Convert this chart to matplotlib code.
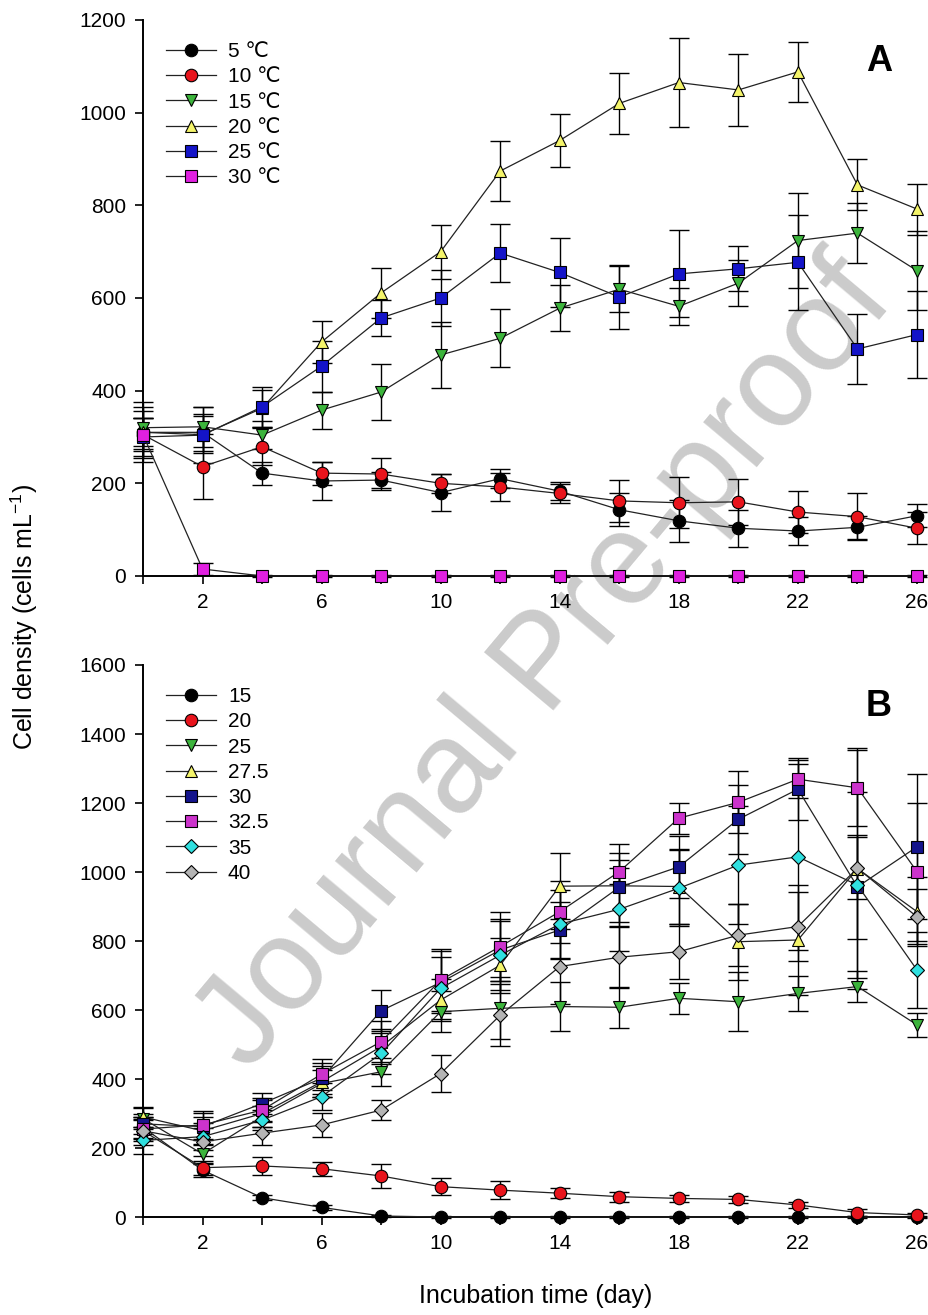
import numpy as np
import matplotlib
matplotlib.use("Agg")
import matplotlib.pyplot as plt
from matplotlib.ticker import FixedLocator, FuncFormatter

plt.rcParams['font.family'] = ['Liberation Sans', 'DejaVu Sans']
plt.rcParams['mathtext.default'] = 'regular'

# --- data ---
days = [0, 2, 4, 6, 8, 10, 12, 14, 16, 18, 20, 22, 24, 26]

# panel A: incubation temperature
a_labels = ['5 ℃', '10 ℃', '15 ℃', '20 ℃', '25 ℃', '30 ℃']
a_5 = [310, 310, 222, 205, 207, 180, 210, 183, 143, 119, 103, 97, 105, 130]
a_5_err = [65, 40, 25, 40, 18, 40, 20, 20, 35, 45, 40, 30, 25, 25]
a_10 = [305, 236, 279, 222, 220, 200, 192, 178, 162, 158, 160, 138, 128, 103]
a_10_err = [50, 70, 40, 25, 35, 20, 30, 20, 45, 55, 50, 45, 50, 35]
a_15 = [320, 322, 304, 358, 397, 477, 513, 578, 619, 582, 632, 724, 740, 659]
a_15_err = [45, 43, 30, 40, 60, 72, 63, 50, 50, 40, 50, 103, 65, 85]
a_20 = [310, 305, 362, 505, 611, 700, 874, 940, 1020, 1065, 1049, 1088, 844, 792]
a_20_err = [30, 40, 40, 45, 54, 58, 65, 58, 66, 97, 78, 64, 55, 55]
a_25 = [300, 304, 365, 453, 557, 600, 697, 655, 602, 652, 663, 677, 490, 521]
a_25_err = [40, 60, 43, 55, 38, 60, 63, 75, 70, 94, 49, 103, 75, 93]
a_30 = [305, 15, 0, 0, 0, 0, 0, 0, 0, 0, 0, 0, 0, 0]
a_30_err = [35, 12, 2, 2, 2, 2, 2, 2, 2, 2, 2, 2, 2, 2]

# panel B
b_labels = ['15', '20', '25', '27.5', '30', '32.5', '35', '40']
b_15 = [260, 136, 56, 28, 3, 0, 0, 0, 0, 0, 0, 0, 0, 0]
b_15_err = [30, 20, 8, 8, 3, 2, 2, 2, 2, 2, 2, 2, 2, 2]
b_20 = [250, 143, 148, 140, 119, 88, 78, 69, 59, 54, 51, 35, 13, 6]
b_20_err = [30, 20, 25, 20, 35, 25, 25, 15, 15, 10, 10, 10, 10, 5]
b_25 = [285, 183, 291, 387, 421, 595, 605, 610, 608, 634, 624, 648, 668, 557]
b_25_err = [30, 30, 30, 40, 40, 60, 90, 70, 60, 45, 85, 50, 45, 35]
b_275 = [290, 250, 300, 392, 494, 629, 730, 959, 960, 958, 798, 803, 1010, 885]
b_275_err = [30, 40, 40, 45, 50, 60, 80, 95, 120, 110, 110, 160, 350, 100]
b_30 = [270, 262, 329, 402, 598, 680, 774, 832, 956, 1015, 1153, 1240, 957, 1073]
b_30_err = [30, 40, 30, 45, 60, 90, 90, 80, 100, 90, 100, 90, 150, 210]
b_325 = [255, 267, 310, 414, 508, 687, 784, 885, 1001, 1156, 1202, 1269, 1244, 1001]
b_325_err = [30, 40, 35, 45, 60, 90, 100, 90, 35, 45, 90, 55, 110, 200]
b_35 = [222, 233, 281, 349, 474, 663, 759, 849, 892, 953, 1020, 1044, 962, 716]
b_35_err = [40, 40, 30, 40, 60, 90, 100, 100, 120, 110, 170, 270, 270, 110]
b_40 = [250, 218, 243, 267, 310, 416, 585, 726, 753, 769, 817, 842, 1011, 870]
b_40_err = [40, 40, 35, 35, 30, 55, 90, 110, 90, 80, 90, 100, 90, 80]

a_series = [a_5, a_10, a_15, a_20, a_25, a_30]
a_errs = [a_5_err, a_10_err, a_15_err, a_20_err, a_25_err, a_30_err]
a_styles = [('o', 'black'), ('o', '#e8141c'), ('v', '#3cb43c'),
            ('^', '#f4f46a'), ('s', '#1414c8'), ('s', '#e020e0')]

b_series = [b_15, b_20, b_25, b_275, b_30, b_325, b_35, b_40]
b_errs = [b_15_err, b_20_err, b_25_err, b_275_err, b_30_err, b_325_err, b_35_err, b_40_err]
b_styles = [('o', 'black'), ('o', '#e8141c'), ('v', '#3cb43c'), ('^', '#f4f46a'),
            ('s', '#14148c'), ('s', '#cc33cc'), ('D', '#30e0e0'), ('D', '#b4b4b4')]


def draw_panel(ax, series, errs, styles, labels, ymax, tag):
    handles = []
    for vals, err, (mk, col), lab in zip(series, errs, styles, labels):
        ax.errorbar(days, vals, yerr=err, fmt='none', ecolor='black',
                    elinewidth=1.0, capsize=7, capthick=1.0, zorder=2, clip_on=False)
        ms = 8 if mk == 's' else (7.5 if mk == 'D' else 9)
        h, = ax.plot(days, vals, color='#222222', lw=0.9, marker=mk, ms=ms,
                     mfc=col, mec='black', mew=0.8, zorder=3, clip_on=False, label=lab)
        handles.append(h)

    ax.set_facecolor('none')
    ax.set_xlim(0, 26.3)
    ax.set_ylim(0, ymax)
    for s in ['top', 'right']:
        ax.spines[s].set_visible(False)
    for s in ['left', 'bottom']:
        ax.spines[s].set_linewidth(1.4)
    ax.xaxis.set_major_locator(FixedLocator(days))
    ax.xaxis.set_major_formatter(FuncFormatter(lambda v, p: str(int(v)) if int(v) % 4 == 2 else ''))
    ax.set_yticks(np.arange(0, ymax + 1, 200))
    ax.tick_params(direction='out', length=6, width=1.2, labelsize=15, pad=6)

    ax.legend(handles=handles, loc='upper left', bbox_to_anchor=(0.03, 0.96),
              frameon=False, fontsize=15, handlelength=2.4, handletextpad=0.55,
              labelspacing=0.3, borderaxespad=0, borderpad=0, numpoints=1)
    ax.text(0.94, 0.925, tag, transform=ax.transAxes, fontsize=26,
            fontweight='bold', ha='center', va='center')


fig = plt.figure(figsize=(9.29, 13.15), dpi=100)
ax_a = fig.add_axes([0.1539, 0.5620, 0.8428, 0.4228])
ax_b = fig.add_axes([0.1539, 0.0745, 0.8428, 0.4198])

draw_panel(ax_a, a_series, a_errs, a_styles, a_labels, 1200, 'A')
draw_panel(ax_b, b_series, b_errs, b_styles, b_labels, 1600, 'B')

fig.text(0.026, 0.531, 'Cell density (cells mL$^{-1}$)', rotation=90,
         fontsize=18, ha='center', va='center')
fig.text(0.577, 0.0145, 'Incubation time (day)', fontsize=18, ha='center', va='center')

# watermark behind the data
fig.text(0.588, 0.494, 'Journal Pre-proof', rotation=50, rotation_mode='anchor',
         fontsize=94, color='#cbcbcb', ha='center', va='center', zorder=-5)

fig.savefig('out.png', dpi=100, facecolor='white')
